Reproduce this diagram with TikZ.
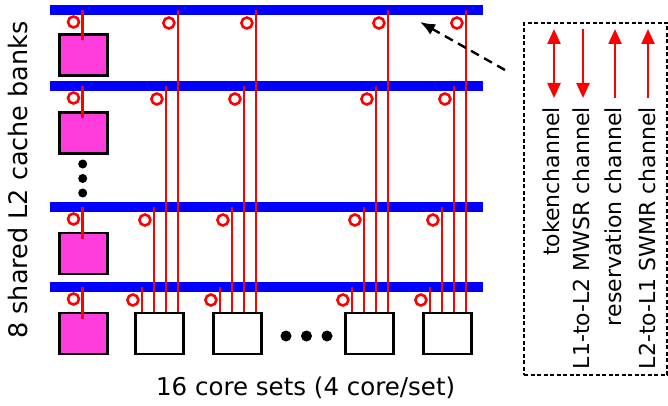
\documentclass[tikz,border=0pt]{standalone}
\usepackage{fontspec}
\setmainfont{DejaVu Sans}
\usetikzlibrary{arrows.meta}
\definecolor{pinkbank}{RGB}{255,60,220}
\tikzset{
  bar/.style={fill=blue, draw=none, minimum width=433pt, minimum height=10pt, inner sep=0pt},
  bank/.style={fill=pinkbank, draw=black, line width=2.2pt, minimum width=48pt, minimum height=41pt, inner sep=0pt},
  coreset/.style={fill=white, draw=black, line width=2.2pt, minimum width=48pt, minimum height=41pt, inner sep=0pt},
  redline/.style={draw=red, line width=2.5pt},
  stub/.style={draw=red, line width=3pt},
  ring/.style={draw=red, line width=2.6pt},
  blackdot/.style={fill=black},
  legarrow/.style={draw=red, line width=2.4pt},
  lbl/.style={inner sep=0pt, font=\fontsize{22}{26}\selectfont},
}
\begin{document}
\begin{tikzpicture}[x=1pt,y=-1pt]
\useasboundingbox (0,0) rectangle (668,406);
% bars
\node[bar] (bar1) at (266.5,10) {};
\node[bar] (bar2) at (266.5,86) {};
\node[bar] (bar3) at (266.5,207) {};
\node[bar] (bar4) at (266.5,287) {};
% banks
\node[bank] (k1) at (83.5,55) {};
\node[bank] (k2) at (83.5,133) {};
\node[bank] (k3) at (83.5,253.5) {};
\node[bank] (k4) at (83.5,333.5) {};
% core sets
\node[coreset] (c1) at (159.5,333.5) {};
\node[coreset] (c2) at (237.5,333.5) {};
\node[coreset] (c3) at (369.5,333.5) {};
\node[coreset] (c4) at (447.5,333.5) {};
% bank stubs and rings
\foreach \k/\b in {k1/bar1,k2/bar2,k3/bar3,k4/bar4}{
  \draw[stub] ([xshift=-1pt,yshift=-7pt]\k.north) -- ([xshift=-1pt]\k.north |- \b.center);
  \draw[ring] ([xshift=-10pt]\k.north |- \b.center) ++(0,12) circle[radius=5.5];
}
% core set lines and rings
\foreach \c in {c1,c2,c3,c4}{
  \foreach \i/\b in {0/bar4,1/bar3,2/bar2,3/bar1}{
    \draw[redline] ([xshift={7.5+12*\i}]\c.north west) -- ([xshift={7.5+12*\i}]\c.north west |- \b.center);
    \draw[ring] ([xshift={-1.5+12*\i}]\c.north west |- \b.center) ++(0,13) circle[radius=5.5];
  }
}
% dots
\fill[blackdot] (82.7,164) circle[radius=4.5];
\fill[blackdot] (82.7,178.5) circle[radius=4.5];
\fill[blackdot] (82.7,193) circle[radius=4.5];
\fill[blackdot] (286,336) circle[radius=5.5];
\fill[blackdot] (306.5,336) circle[radius=5.5];
\fill[blackdot] (327,336) circle[radius=5.5];
% legend box
\node[draw=black, line width=2pt, dash pattern=on 4pt off 2.5pt, minimum width=143pt, minimum height=352pt, inner sep=0pt] (legend) at (595.5,199) {};
\coordinate (pstart) at (505,70);
\coordinate (ptip) at (420,22);
\draw[line width=2.4pt, dash pattern=on 9pt off 6pt, -{Latex[length=15pt,width=12pt]}] (pstart) -- (ptip);
% legend arrows
\coordinate (a1t) at (554,29); \coordinate (a1b) at (554,98);
\coordinate (a2t) at (583,29); \coordinate (a2b) at (583,98);
\coordinate (a3t) at (615,29); \coordinate (a3b) at (615,98);
\coordinate (a4t) at (648,29); \coordinate (a4b) at (648,98);
\draw[legarrow, {Triangle[length=15pt,width=13pt]}-{Triangle[length=15pt,width=13pt]}] (a1t) -- (a1b);
\draw[legarrow, -{Triangle[length=15pt,width=13pt]}] (a2t) -- (a2b);
\draw[legarrow, -{Triangle[length=15pt,width=13pt]}] (a3b) -- (a3t);
\draw[legarrow, -{Triangle[length=15pt,width=13pt]}] (a4b) -- (a4t);
% legend labels
\node[lbl, rotate=90, anchor=base east] (t1) at (559.3,107) {tokenchannel};
\node[lbl, rotate=90, anchor=base east] (t2) at (589.3,107) {L1-to-L2 MWSR channel};
\node[lbl, rotate=90, anchor=base east] (t3) at (621.7,107) {reservation channel};
\node[lbl, rotate=90, anchor=base east] (t4) at (655,107) {L2-to-L1 SWMR channel};
% axis labels
\node[lbl, font=\fontsize{25.5}{30}\selectfont, rotate=90, anchor=base] (ylab) at (27.5,180) {8 shared L2 cache banks};
\node[lbl, font=\fontsize{24.5}{29}\selectfont, anchor=base] (xlab) at (305.7,395) {16 core sets (4 core/set)};
\end{tikzpicture}
\end{document}
